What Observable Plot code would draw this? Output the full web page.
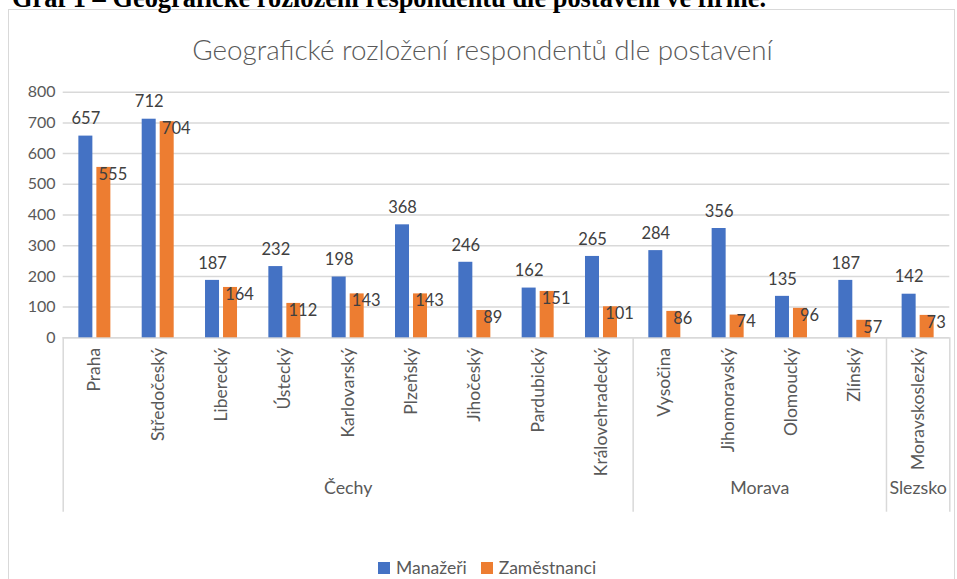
<!DOCTYPE html>
<html><head><meta charset="utf-8">
<script src="https://cdn.jsdelivr.net/npm/d3@7"></script>
<script src="https://cdn.jsdelivr.net/npm/@observablehq/plot@0.6"></script>
<style>
html,body{margin:0;padding:0;background:#fff;}
#page{position:relative;width:957px;height:579px;overflow:hidden;font-family:Lato,"Open Sans",sans-serif;}
#frame{position:absolute;left:8px;top:9px;width:947px;height:620px;border:1.5px solid #d9d9d9;box-sizing:border-box;}
#caption{position:absolute;left:12px;top:-15px;font:bold 26.4px "Liberation Serif","Times New Roman",serif;line-height:26px;white-space:nowrap;color:#000;}
#title{position:absolute;left:8px;width:949px;top:35px;text-align:center;font-size:27.8px;font-weight:300;line-height:30px;color:#595959;white-space:nowrap;}
#chart{position:absolute;left:0;top:0;}
#legend{position:absolute;left:378px;top:557px;display:flex;align-items:center;font-size:17.5px;color:#595959;line-height:22px;white-space:nowrap;}
#legend .sw{display:inline-block;width:12px;height:12px;margin-right:6px;}
#legend .item{display:flex;align-items:center;margin-right:14px;}
</style>
</head>
<body>
<div id="page">
  <div id="frame"></div>
  <div id="caption"></div>
  <div id="title"></div>
  <div id="chart"></div>
  <div id="legend"></div>
</div>
<script>
const captionText = "Graf 1 – Geografické rozložení respondentů dle postavení ve firmě.";
const titleText = "Geografické rozložení respondentů dle postavení";
const categories = ["Praha","Středočeský","Liberecký","Ústecký","Karlovarský","Plzeňský","Jihočeský","Pardubický","Královehradecký","Vysočina","Jihomoravský","Olomoucký","Zlínský","Moravskoslezký"];
const managers = [657,712,187,232,198,368,246,162,265,284,356,135,187,142];
const employees = [555,704,164,112,143,143,89,151,101,86,74,96,57,73];
const groupNames = ["Čechy","Morava","Slezsko"];
const groupSizes = [9,4,1];
const seriesNames = ["Manažeři","Zaměstnanci"];
const seriesColors = ["#4472C4","#ED7D31"];
const yTicks = [0,100,200,300,400,500,600,700,800];

document.getElementById("caption").textContent = captionText;
document.getElementById("title").textContent = titleText;

// layout constants
const W = 957, H = 579;
const mLeft = 62.7, mRight = 7.7, mTop = 91.7, mBottom = 241.7;
const bandPx = (W - mLeft - mRight) / categories.length;
const halfGap = 2 / bandPx, barW = 14 / bandPx;
const axisDepth = 174.4;   // depth of the multi-level category axis
const gridColor = "#d9d9d9";

const rows = categories.flatMap((c, i) => [
  {i, c, s: seriesNames[0], v: managers[i], k: 0},
  {i, c, s: seriesNames[1], v: employees[i], k: 1}
]);
const barX1 = d => d.i + 0.5 + (d.k === 0 ? -halfGap - barW : halfGap);
const barX2 = d => d.i + 0.5 + (d.k === 0 ? -halfGap : halfGap + barW);
const barMid = d => (barX1(d) + barX2(d)) / 2;

// group boundaries & centers
let acc = 0;
const groups = groupNames.map((g, j) => {
  const start = acc; acc += groupSizes[j];
  return {name: g, start, end: acc, mid: (start + acc) / 2};
});
const boundaries = [0, ...groups.map(g => g.end)];

const chart = Plot.plot({
  width: W, height: H,
  marginLeft: mLeft, marginRight: mRight, marginTop: mTop, marginBottom: mBottom,
  style: {color: "#595959", fontFamily: "Lato, 'Open Sans', sans-serif", background: "transparent", overflow: "visible"},
  x: {type: "linear", domain: [0, categories.length]},
  y: {domain: [0, 800]},
  color: {domain: seriesNames, range: seriesColors},
  marks: [
    Plot.gridY({ticks: yTicks, stroke: gridColor, strokeOpacity: 1, strokeWidth: 1.5}),
    Plot.ruleY([0], {stroke: gridColor, strokeWidth: 1.5}),
    Plot.ruleX(boundaries, {x: d => d, y1: () => 0, y2: () => 0, insetBottom: -axisDepth, stroke: gridColor, strokeWidth: 1.5}),
    Plot.rectY(rows, {x1: barX1, x2: barX2, y: "v", fill: "s"}),
    Plot.text(rows.filter(d => d.k === 0), {x: barMid, y: "v", text: d => String(d.v), dy: -17, fill: "#404040", fontSize: 16.5}),
    Plot.text(rows.filter(d => d.k === 1), {x: barMid, y: "v", text: d => String(d.v), dx: 9, dy: 7, fill: "#404040", fontSize: 16.5}),
    Plot.axisY({ticks: yTicks, tickSize: 0, tickPadding: 7.7, fontSize: 16, label: null}),
    Plot.axisX({ticks: categories.map((c, i) => i + 0.5), tickFormat: d => categories[Math.floor(d)], tickRotate: -90, tickSize: 0, tickPadding: 10, fontSize: 17.5, label: null}),
    Plot.text(groups, {x: "mid", y: () => 0, text: "name", dy: 150, fontSize: 17.8, fill: "#595959"})
  ]
});
document.getElementById("chart").appendChild(chart);

const legend = document.getElementById("legend");
seriesNames.forEach((s, j) => {
  const item = document.createElement("span");
  item.className = "item";
  const sw = document.createElement("span");
  sw.className = "sw"; sw.style.background = seriesColors[j];
  const lab = document.createElement("span");
  lab.textContent = s;
  item.appendChild(sw); item.appendChild(lab);
  legend.appendChild(item);
});
</script>
</body></html>
